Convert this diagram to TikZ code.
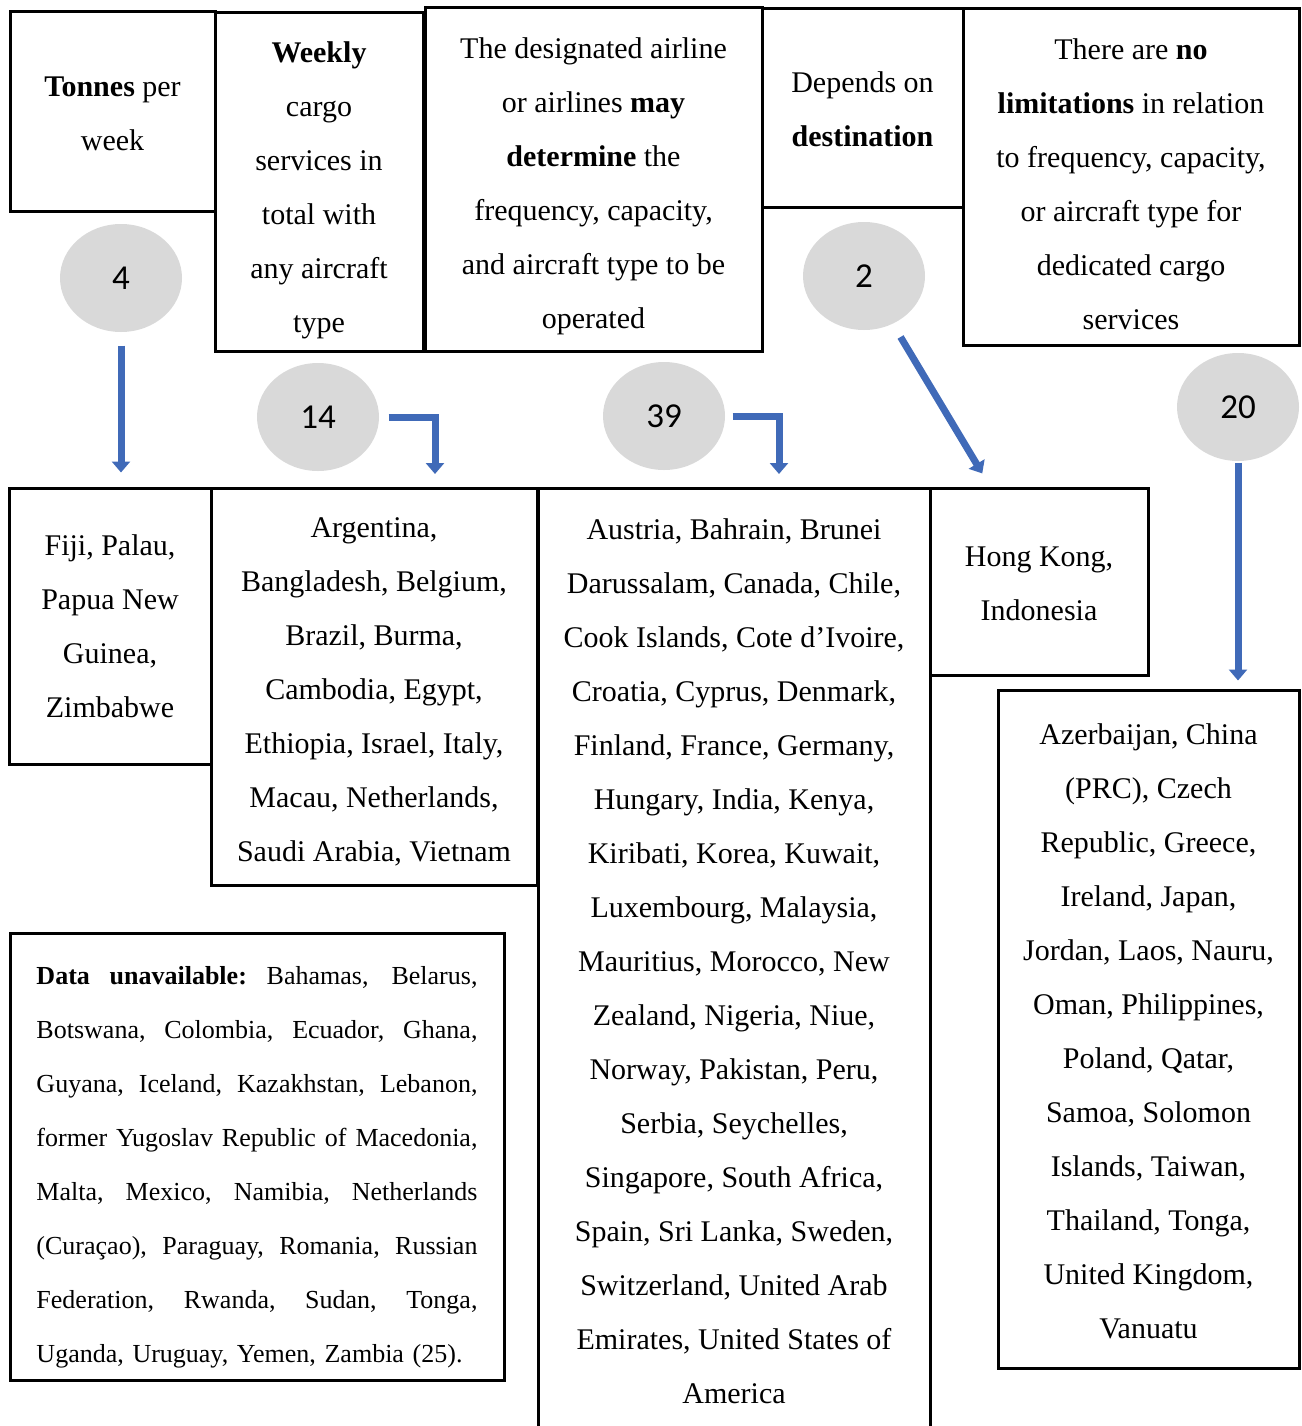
\documentclass[tikz,border=0pt]{standalone}
\usepackage{fontspec}
\setmainfont{Liberation Serif}
\newfontfamily\numfont{Carlito}
\usetikzlibrary{shapes,arrows.meta,calc}
\newcommand{\px}{0.4pt}
\newcommand{\padtop}[1]{\rule{0pt}{#1}}
\newcommand{\fillline}[1]{\makebox[176.4pt][s]{\spaceskip=2.6pt plus 1fil\xspaceskip=2.6pt plus 1fil #1}}
\definecolor{arrowblue}{RGB}{64,106,184}
\definecolor{bubblegray}{RGB}{217,217,217}
\tikzset{
    box/.style={draw,line width=1.2pt,align=center,inner sep=0pt,font=\fontsize{12}{21.6}\selectfont},
    bubble/.style={ellipse,fill=bubblegray,minimum width=122*\px,minimum height=108*\px,inner sep=0pt,font=\numfont\fontsize{14}{16}\selectfont},
    flow/.style={-{Triangle[width=7.2pt,length=4.4pt]},line width=2.8pt,draw=arrowblue},
}
\begin{document}
\begin{tikzpicture}[x=0.4pt,y=-0.4pt]
    \useasboundingbox (0,0) rectangle (1301,1426);
    % top row
    \node[box,minimum width=205*\px,minimum height=200*\px] (tonnes) at (112.5,111) {\padtop{10.3pt}\textbf{Tonnes} per\\ week};
    \node[box,minimum width=208*\px,minimum height=339*\px] (weekly) at (319,181.5) {\padtop{15.3pt}\textbf{Weekly}\\ cargo\\ services in\\ total with\\ any aircraft\\ type};
    \node[box,minimum width=337*\px,minimum height=344*\px] (airline) at (593.5,179) {\padtop{13.8pt}The designated airline\\ or airlines \textbf{may}\\ \textbf{determine} the\\ frequency, capacity,\\ and aircraft type to be\\ operated};
    \node[box,minimum width=201*\px,minimum height=199*\px] (depends) at (862.5,107.5) {\padtop{9.8pt}Depends on\\ \textbf{destination}};
    \node[box,minimum width=336*\px,minimum height=337*\px] (nolimit) at (1131,176.5) {\padtop{14.2pt}There are \textbf{no}\\ \textbf{limitations} in relation\\ to frequency, capacity,\\ or aircraft type for\\ dedicated cargo\\ services};
    % country lists
    \node[box,minimum width=202*\px,minimum height=276*\px] (fiji) at (110,626) {Fiji, Palau,\\ Papua New\\ Guinea,\\ Zimbabwe};
    \node[box,minimum width=326*\px,minimum height=397*\px] (argentina) at (374,686.5) {\padtop{12.1pt}Argentina,\\ Bangladesh, Belgium,\\ Brazil, Burma,\\ Cambodia, Egypt,\\ Ethiopia, Israel, Italy,\\ Macau, Netherlands,\\ Saudi Arabia, Vietnam};
    \node[box,minimum width=392*\px,minimum height=946*\px] (austria) at (734,961) {Austria, Bahrain, Brunei\\ Darussalam, Canada, Chile,\\ Cook Islands, Cote d’Ivoire,\\ Croatia, Cyprus, Denmark,\\ Finland, France, Germany,\\ Hungary, India, Kenya,\\ Kiribati, Korea, Kuwait,\\ Luxembourg, Malaysia,\\ Mauritius, Morocco, New\\ Zealand, Nigeria, Niue,\\ Norway, Pakistan, Peru,\\ Serbia, Seychelles,\\ Singapore, South Africa,\\ Spain, Sri Lanka, Sweden,\\ Switzerland, United Arab\\ Emirates, United States of\\ America};
    \node[box,minimum width=218*\px,minimum height=187*\px] (hongkong) at (1039,581.5) {\padtop{9.8pt}Hong Kong,\\ Indonesia};
    \node[box,minimum width=301*\px,minimum height=678*\px] (azerbaijan) at (1148.5,1029) {\padtop{10.2pt}Azerbaijan, China\\ (PRC), Czech\\ Republic, Greece,\\ Ireland, Japan,\\ Jordan, Laos, Nauru,\\ Oman, Philippines,\\ Poland, Qatar,\\ Samoa, Solomon\\ Islands, Taiwan,\\ Thailand, Tonga,\\ United Kingdom,\\ Vanuatu};
    \node[box,align=left,text width=441*\px,inner xsep=26.5*\px,minimum height=447*\px,font=\fontsize{10.4}{21.6}\selectfont] (missing) at (257,1156.5) {%
        \padtop{15.8pt}\fillline{\textbf{Data unavailable:} Bahamas, Belarus,}\\
        \fillline{Botswana, Colombia, Ecuador, Ghana,}\\
        \fillline{Guyana, Iceland, Kazakhstan, Lebanon,}\\
        \fillline{former Yugoslav Republic of Macedonia,}\\
        \fillline{Malta, Mexico, Namibia, Netherlands}\\
        \fillline{(Curaçao), Paraguay, Romania, Russian}\\
        \fillline{Federation, Rwanda, Sudan, Tonga,}\\
        Uganda, Uruguay, Yemen, Zambia (25).};
    % counts
    \node[bubble] (c4) at (121,278) {4};
    \node[bubble] (c14) at (318,417) {14};
    \node[bubble] (c39) at (664,416) {39};
    \node[bubble] (c2) at (864,276) {2};
    \node[bubble] (c20) at (1238,407) {20};
    \coordinate (t14) at (435,488);
    \coordinate (t39) at (779,488);
    \coordinate (t2) at (991,488);
    \draw[flow,shorten <=5.2pt,shorten >=5.6pt] (c4.south) -- (c4.south |- fiji.north);
    \draw[flow,shorten <=3.6pt,shorten >=5.6pt] (c14.east) -| (t14);
    \draw[flow,shorten <=2.8pt,shorten >=5.6pt] (c39.east) -| (t39);
    \draw[flow,shorten <=6pt,shorten >=6.8pt] (c2) -- (t2);
    \draw[flow,shorten <=0.4pt,shorten >=3.2pt] (c20.south) -- (c20.south |- azerbaijan.north);
\end{tikzpicture}
\end{document}
